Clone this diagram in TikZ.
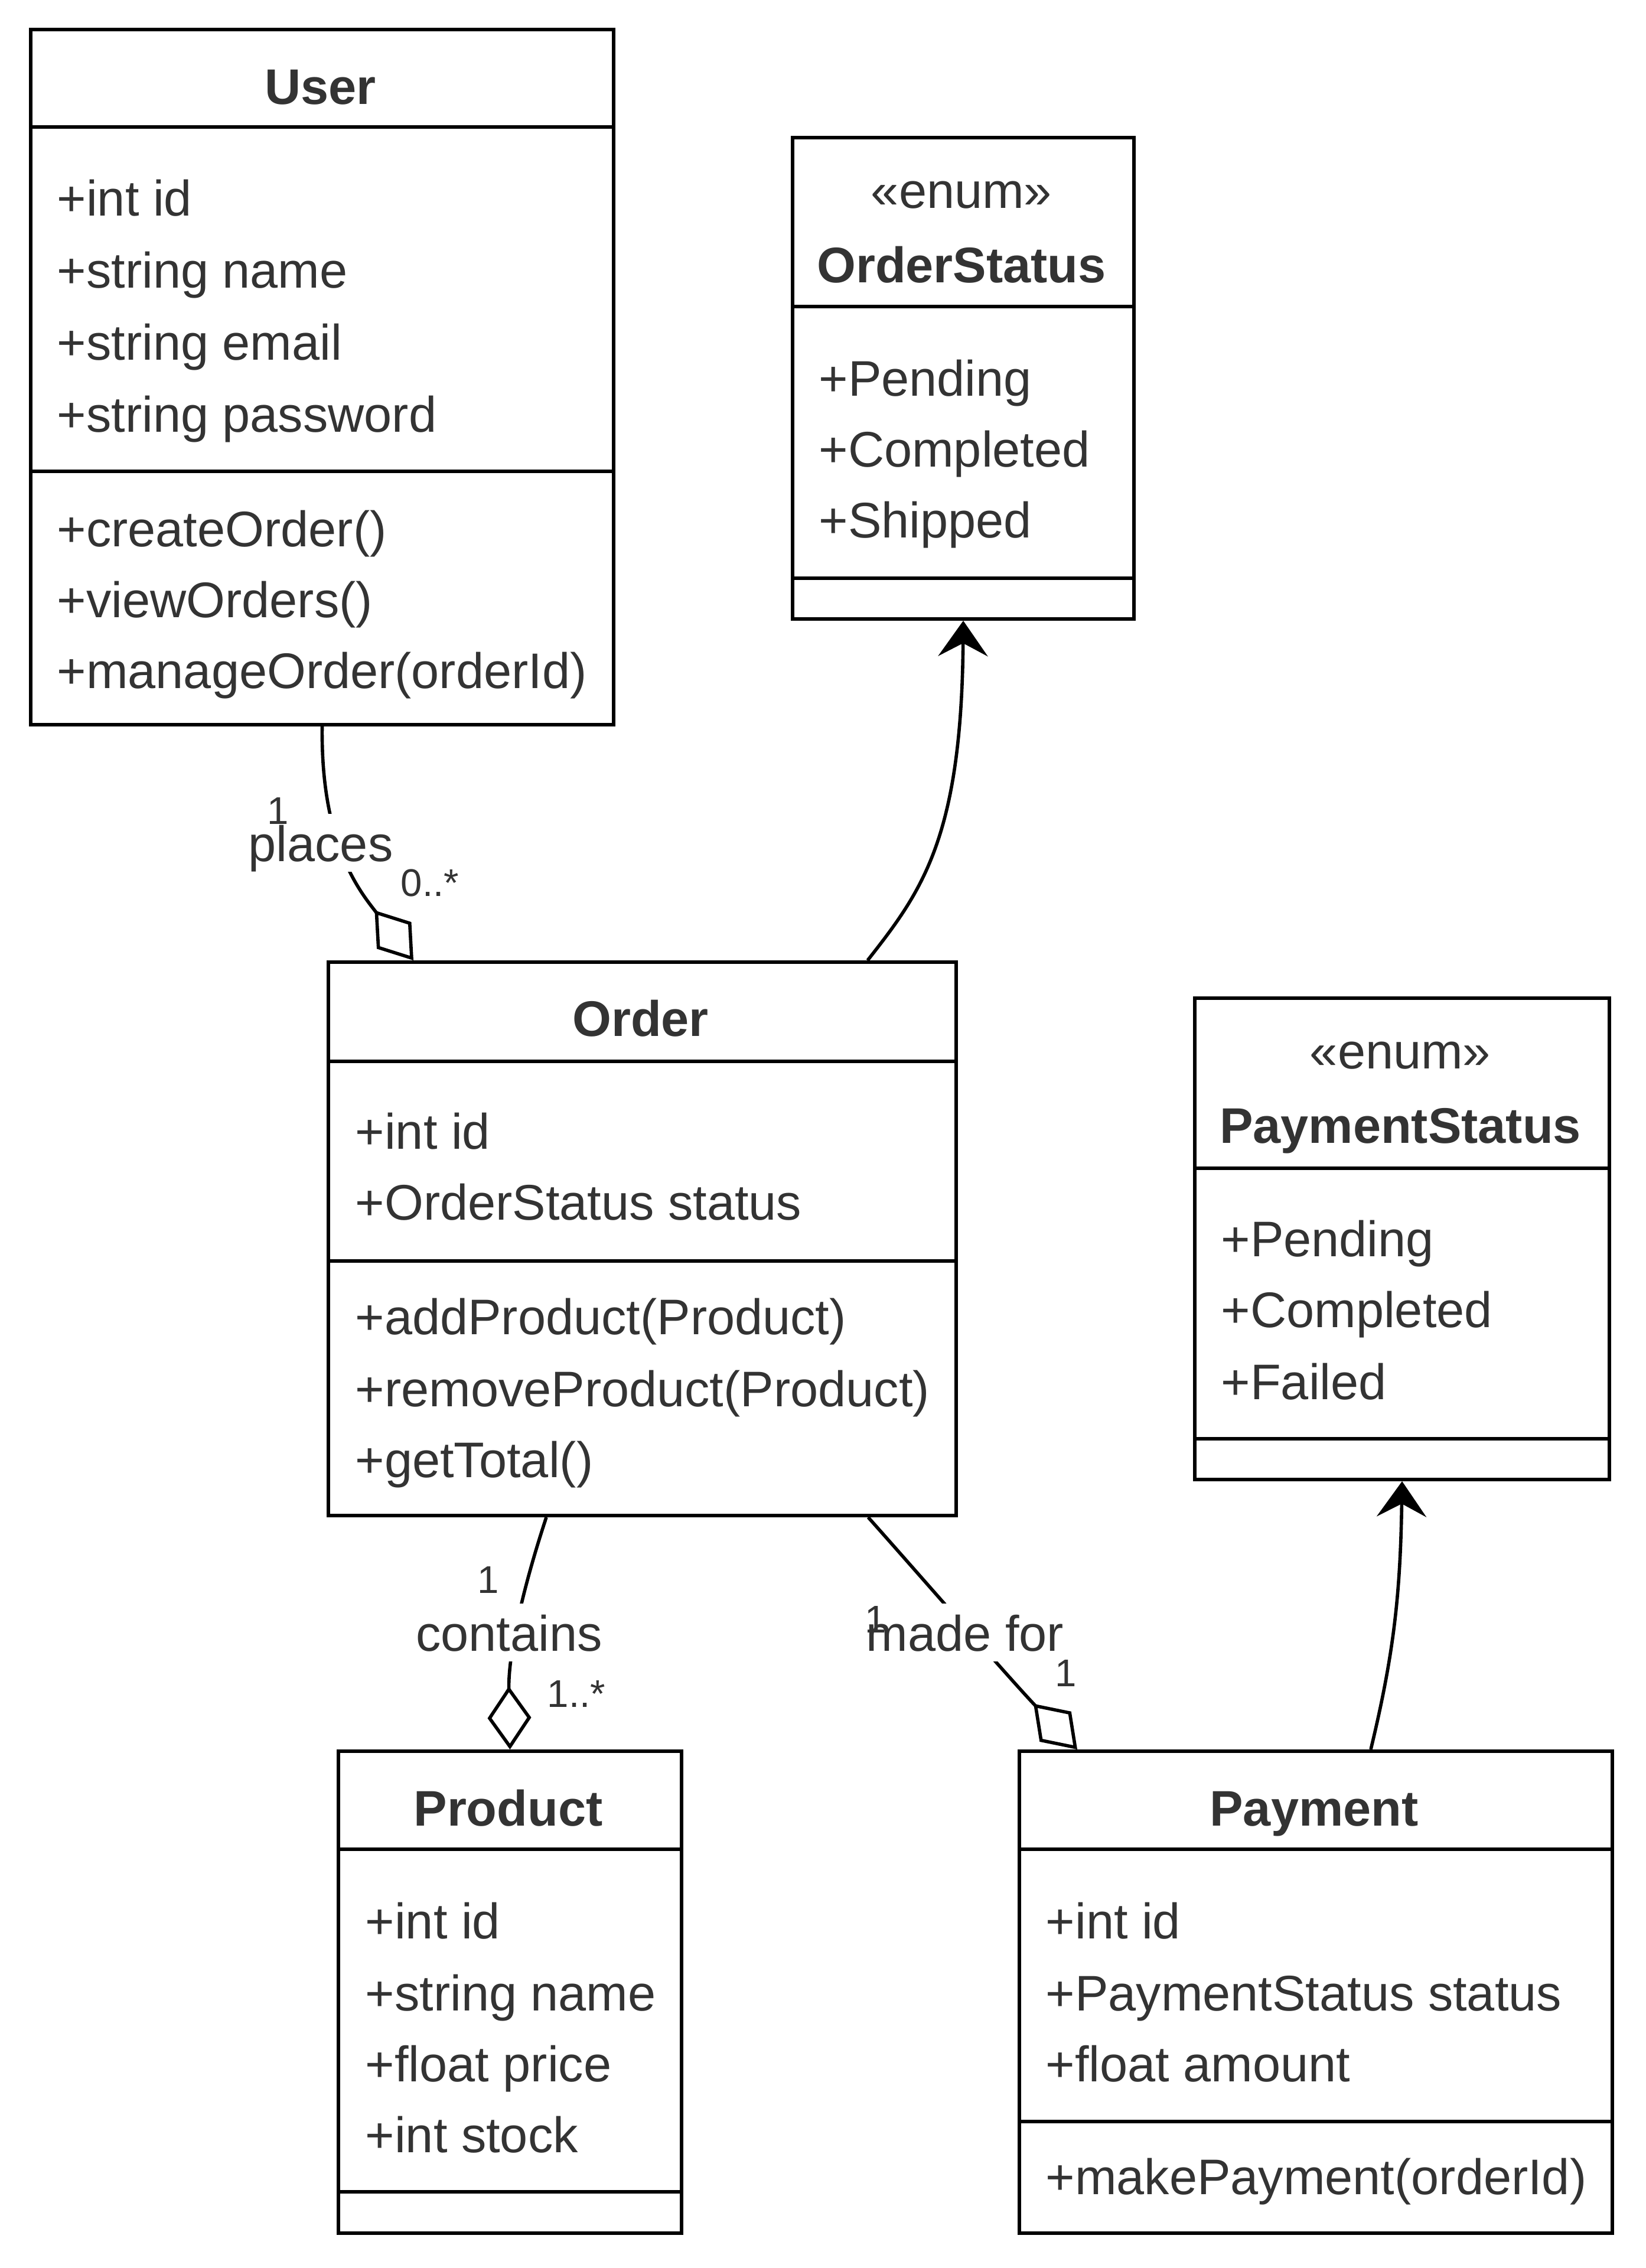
\documentclass[tikz,border=0pt]{standalone}
\usepackage{fontspec}
\setmainfont{Liberation Sans}
\usetikzlibrary{arrows.meta,calc}
\definecolor{textgray}{HTML}{333333}
\begin{document}
\begin{tikzpicture}[
    classbox/.style={draw, line width=1.7pt, rectangle, anchor=north west, inner sep=0pt},
    sepline/.style={line width=1.7pt},
    member/.style={text=textgray, anchor=base west, inner sep=0pt, yshift=-0.04cm, font=\fontsize{24.1}{28.9}\selectfont},
    classname/.style={text=textgray, anchor=base, inner sep=0pt, yshift=-0.03cm, font=\fontsize{24.1}{28.9}\selectfont\bfseries},
    stereo/.style={text=textgray, anchor=base, inner sep=0pt, yshift=-0.03cm, font=\fontsize{24.1}{28.9}\selectfont},
    assoc/.style={fill=white, text=textgray, anchor=base, inner xsep=2pt, inner ysep=0pt,
                  text height=0.8cm, text depth=0.18cm, font=\fontsize{24.1}{28.9}\selectfont},
    mult/.style={text=textgray, anchor=base, inner sep=0pt, font=\fontsize{18.6}{22}\selectfont},
    aggr/.style={line width=1.6pt, -{Diamond[open, length=1.07cm, width=0.74cm]}},
    dep/.style={line width=1.6pt, -{Stealth[length=0.6cm, width=0.84cm, inset=0.22cm]}}
  ]
  \useasboundingbox (0,0) rectangle (27.86,-38.40);

  % Clase User
  \node[classbox, minimum width=9.87cm, minimum height=11.77cm] (user) at (0.49,-0.47) {};
  \draw[sepline] (user.west |- 0,-2.15) -- (user.east |- 0,-2.15);
  \draw[sepline] (user.west |- 0,-7.98) -- (user.east |- 0,-7.98);
  \node[classname] (user-t) at (5.425,-1.74) {User};
  \node[member] (user-a1) at (0.96,-3.62) {+int id};
  \node[member] (user-a2) at (0.96,-4.84) {+string name};
  \node[member] (user-a3) at (0.96,-6.06) {+string email};
  \node[member] (user-a4) at (0.96,-7.27) {+string password};
  \node[member] (user-m1) at (0.96,-9.21) {+createOrder()};
  \node[member] (user-m2) at (0.96,-10.41) {+viewOrders()};
  \node[member] (user-m3) at (0.96,-11.61) {+manageOrder(orderId)};

  % Enumeracion OrderStatus
  \node[classbox, minimum width=5.78cm, minimum height=8.15cm] (ostatus) at (13.39,-2.30) {};
  \draw[sepline] (ostatus.west |- 0,-5.19) -- (ostatus.east |- 0,-5.19);
  \draw[sepline] (ostatus.west |- 0,-9.79) -- (ostatus.east |- 0,-9.79);
  \node[stereo] (ostatus-s) at (16.28,-3.50) {«enum»};
  \node[classname] (ostatus-t) at (16.28,-4.76) {OrderStatus};
  \node[member] (ostatus-a1) at (13.86,-6.66) {+Pending};
  \node[member] (ostatus-a2) at (13.86,-7.86) {+Completed};
  \node[member] (ostatus-a3) at (13.86,-9.06) {+Shipped};

  % Clase Order
  \node[classbox, minimum width=10.63cm, minimum height=9.37cm] (order) at (5.53,-16.26) {};
  \draw[sepline] (order.west |- 0,-17.97) -- (order.east |- 0,-17.97);
  \draw[sepline] (order.west |- 0,-21.35) -- (order.east |- 0,-21.35);
  \node[classname] (order-t) at (10.845,-17.51) {Order};
  \node[member] (order-a1) at (6.01,-19.41) {+int id};
  \node[member] (order-a2) at (6.01,-20.61) {+OrderStatus status};
  \node[member] (order-m1) at (6.01,-22.55) {+addProduct(Product)};
  \node[member] (order-m2) at (6.01,-23.77) {+removeProduct(Product)};
  \node[member] (order-m3) at (6.01,-24.97) {+getTotal()};

  % Enumeracion PaymentStatus
  \node[classbox, minimum width=7.02cm, minimum height=8.15cm] (pstatus) at (20.20,-16.87) {};
  \draw[sepline] (pstatus.west |- 0,-19.78) -- (pstatus.east |- 0,-19.78);
  \draw[sepline] (pstatus.west |- 0,-24.36) -- (pstatus.east |- 0,-24.36);
  \node[stereo] (pstatus-s) at (23.71,-18.06) {«enum»};
  \node[classname] (pstatus-t) at (23.71,-19.32) {PaymentStatus};
  \node[member] (pstatus-a1) at (20.67,-21.23) {+Pending};
  \node[member] (pstatus-a2) at (20.67,-22.43) {+Completed};
  \node[member] (pstatus-a3) at (20.67,-23.65) {+Failed};

  % Clase Product
  \node[classbox, minimum width=5.81cm, minimum height=8.16cm] (product) at (5.70,-29.62) {};
  \draw[sepline] (product.west |- 0,-31.31) -- (product.east |- 0,-31.31);
  \draw[sepline] (product.west |- 0,-37.11) -- (product.east |- 0,-37.11);
  \node[classname] (product-t) at (8.605,-30.88) {Product};
  \node[member] (product-a1) at (6.18,-32.78) {+int id};
  \node[member] (product-a2) at (6.18,-34.00) {+string name};
  \node[member] (product-a3) at (6.18,-35.20) {+float price};
  \node[member] (product-a4) at (6.18,-36.40) {+int stock};

  % Clase Payment
  \node[classbox, minimum width=10.04cm, minimum height=8.16cm] (payment) at (17.23,-29.62) {};
  \draw[sepline] (payment.west |- 0,-31.31) -- (payment.east |- 0,-31.31);
  \draw[sepline] (payment.west |- 0,-35.92) -- (payment.east |- 0,-35.92);
  \node[classname] (payment-t) at (22.25,-30.88) {Payment};
  \node[member] (payment-a1) at (17.70,-32.78) {+int id};
  \node[member] (payment-a2) at (17.70,-34.00) {+PaymentStatus status};
  \node[member] (payment-a3) at (17.70,-35.20) {+float amount};
  \node[member] (payment-m1) at (17.70,-37.11) {+makePayment(orderId)};

  % Relaciones
  \draw[aggr] (user.south) .. controls (5.43,-14.3) and (6.1,-15.1) .. ($(order.north west)+(1.47,0)$);
  \draw[dep] ($(order.north west)+(9.16,0)$) .. controls (15.60,-15.10) and (16.28,-14.20) .. (ostatus.south);
  \draw[aggr] ($(order.south west)+(3.72,0)$) .. controls (8.85,-26.90) and (8.605,-28.00) .. (product.north);
  \draw[aggr] ($(order.south west)+(9.17,0)$) .. controls (15.60,-26.70) and (17.13,-28.46) .. ($(payment.north west)+(1.01,0)$);
  \draw[dep] ($(payment.north west)+(5.98,0)$) .. controls (23.60,-28.00) and (23.71,-27.00) .. (pstatus.south);

  % Etiquetas de las relaciones
  \node[assoc] (l-places) at (5.43,-14.58) {places};
  \node[assoc] (l-contains) at (8.62,-27.95) {contains};
  \node[assoc] (l-madefor) at (16.34,-27.95) {made for};

  % Multiplicidades
  \node[mult] (m-user) at (4.71,-13.95) {1};
  \node[mult] (m-order1) at (7.28,-15.17) {0..*};
  \node[mult] (m-order2) at (8.27,-26.97) {1};
  \node[mult] (m-product) at (9.76,-28.90) {1..*};
  \node[mult] (m-order3) at (14.83,-27.64) {1};
  \node[mult] (m-payment) at (18.05,-28.55) {1};
\end{tikzpicture}
\end{document}
